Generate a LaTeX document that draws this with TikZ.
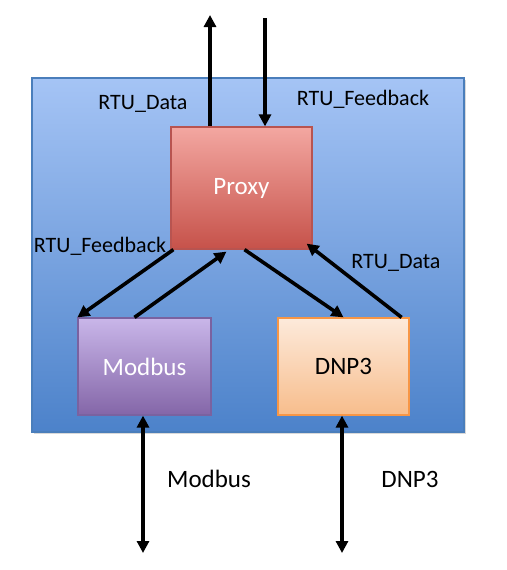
\documentclass[tikz,border=0pt]{standalone}
\usepackage{fontspec}
\setmainfont{Carlito}
\usetikzlibrary{arrows.meta,shadows}
\definecolor{outtop}{HTML}{A5C4F5}
\definecolor{outbot}{HTML}{4C82CA}
\definecolor{outline}{HTML}{4A7EBB}
\definecolor{prtop}{HTML}{F3A7A1}
\definecolor{prbot}{HTML}{C6524A}
\definecolor{prline}{HTML}{B85450}
\definecolor{mbtop}{HTML}{C9B6E9}
\definecolor{mbbot}{HTML}{8466A8}
\definecolor{mbline}{HTML}{7A62A0}
\definecolor{dntop}{HTML}{FDEADB}
\definecolor{dnbot}{HTML}{F7BD8C}
\definecolor{dnline}{HTML}{F79646}
\tikzset{
  boxnode/.style={draw, line width=1.2pt, minimum width=#1, inner sep=0pt, font=\fontsize{25}{28}\selectfont},
  arr/.style={line width=3.6pt, -{Triangle[length=12pt,width=12pt]}},
  darr/.style={line width=3.6pt, {Triangle[length=12pt,width=12pt]}-{Triangle[length=12pt,width=12pt]}},
  lbl/.style={font=\fontsize{22}{24}\selectfont, inner sep=0pt},
  blbl/.style={font=\fontsize{25}{28}\selectfont, inner sep=0pt}
}
\begin{document}
\begin{tikzpicture}[x=1pt,y=-1pt]
\useasboundingbox (0,0) rectangle (506,570);
% outer box
\node[draw=outline, line width=1.2pt, top color=outtop, bottom color=outbot,
  minimum width=432pt, minimum height=354pt, inner sep=0pt,
  drop shadow={shadow xshift=1.5pt, shadow yshift=-1.5pt, opacity=0.3}] (outer) at (248,255) {};
% inner boxes
\node[boxnode=141pt, minimum height=122pt, draw=prline, top color=prtop, bottom color=prbot, text=white] (proxy) at (241.5,188) {Proxy};
\node[boxnode=133pt, minimum height=97pt, draw=mbline, top color=mbtop, bottom color=mbbot, text=white] (modbus) at (144.5,366.5) {Modbus};
\node[boxnode=131pt, minimum height=97pt, draw=dnline, top color=dntop, bottom color=dnbot, text=black] (dnp) at (343.5,366.5) {DNP3};
% free ends
\coordinate (topout) at (210,15);
\coordinate (topin) at (265,18);
\coordinate (mbout) at (143,553);
\coordinate (dnout) at (342,553);
% top arrows
\draw[arr] (proxy.north -| topout) -- (topout);
\draw[arr] (topin) -- (proxy.north -| topin);
% diagonal arrows
\draw[arr] ([xshift=3pt]proxy.south west) -- (modbus.north west);
\draw[arr] ([xshift=-10pt]modbus.north) -- ([xshift=-15pt,yshift=-2pt]proxy.south);
\draw[arr] ([xshift=3pt]proxy.south) -- (dnp.north);
\draw[arr] ([xshift=-8pt]dnp.north east) -- ([xshift=-6pt,yshift=6pt]proxy.south east);
% bottom arrows
\draw[darr] (modbus.south -| mbout) -- (mbout);
\draw[darr] (dnp.south -| dnout) -- (dnout);
% labels
\node[lbl] (l1) at (143,104) {RTU\_Data};
\node[lbl] (l2) at (363,99) {RTU\_Feedback};
\node[lbl] (l3) at (100,246) {RTU\_Feedback};
\node[lbl] (l4) at (396,263) {RTU\_Data};
\node[blbl] (l5) at (209,479) {Modbus};
\node[blbl] (l6) at (410,479) {DNP3};
\end{tikzpicture}
\end{document}
